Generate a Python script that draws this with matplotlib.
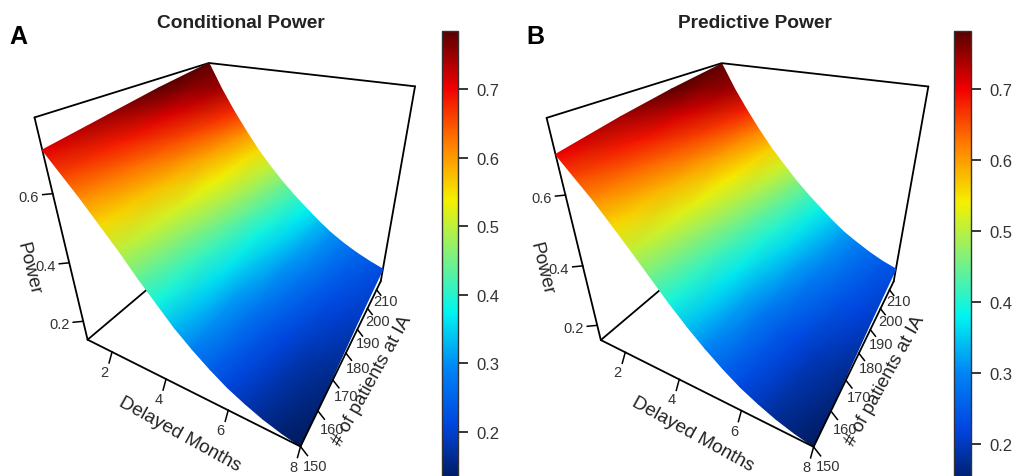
import numpy as np
import matplotlib
matplotlib.use("Agg")
import matplotlib.pyplot as plt
from matplotlib.colors import LinearSegmentedColormap, Normalize
from matplotlib.cm import ScalarMappable

plt.rcParams['font.family'] = ['Liberation Sans', 'DejaVu Sans']

months = [1, 1.5, 2, 2.5, 3, 3.5, 4, 4.5, 5, 5.5, 6, 6.5, 7, 7.5, 8]
patients = [150, 170, 190, 215]

cond_power = [
    [.71, .66, .61, .555, .50, .44, .385, .33, .285, .245, .21, .183, .16, .143, .13],
    [.735, .675, .62, .56, .505, .45, .40, .347, .30, .26, .225, .198, .175, .158, .145],
    [.76, .69, .63, .57, .51, .46, .41, .362, .32, .282, .25, .22, .195, .178, .165],
    [.785, .705, .635, .572, .513, .462, .415, .373, .335, .298, .265, .238, .215, .196, .18],
]
pred_power = [
    [.70, .655, .61, .558, .505, .45, .395, .345, .30, .26, .225, .198, .175, .158, .145],
    [.73, .675, .625, .57, .515, .46, .41, .36, .315, .275, .24, .213, .19, .174, .16],
    [.755, .69, .635, .578, .52, .47, .42, .376, .335, .298, .265, .238, .215, .196, .18],
    [.78, .705, .64, .58, .525, .477, .43, .388, .35, .313, .28, .254, .23, .21, .195],
]
# the colours read a bit higher than the heights towards the back of the box
colour_shift = [0.0, 0.012, 0.025, 0.04]

month_ticks = [2, 4, 6, 8]
patient_ticks = [150, 160, 170, 180, 190, 200, 210]
power_ticks = [0.2, 0.4, 0.6]
bar_ticks = [0.2, 0.3, 0.4, 0.5, 0.6, 0.7]

jet2 = LinearSegmentedColormap.from_list(
    'jet2', ['#001A5C', '#0045E0', '#0085F5', '#00F5F0', '#7FF07F',
             '#F5F000', '#FF7F00', '#F00000', '#5A0000'], N=256)

# colour limits per panel
lim_a = (0.128, 0.785)
lim_b = (0.14, 0.782)


def fit_camera(world, pixels):
    # 3x4 projection from a few known box points (pixel positions in the figure)
    rows = []
    for (x, y, z), (u, v) in zip(world, pixels):
        rows.append([x, y, z, 1, 0, 0, 0, 0, -u*x, -u*y, -u*z, -u])
        rows.append([0, 0, 0, 0, x, y, z, 1, -v*x, -v*y, -v*z, -v])
    return np.linalg.svd(np.array(rows, float))[2][-1].reshape(3, 4)


def project(cam, m, n, z):
    m = (np.asarray(m, float) - 1) / 7
    n = (np.asarray(n, float) - 150) / 65
    z = np.asarray(z, float)
    w = cam[2, 0]*m + cam[2, 1]*n + cam[2, 2]*z + cam[2, 3]
    u = (cam[0, 0]*m + cam[0, 1]*n + cam[0, 2]*z + cam[0, 3]) / w
    v = (cam[1, 0]*m + cam[1, 1]*n + cam[1, 2]*z + cam[1, 3]) / w
    return u, v


def draw_panel(ax, power, zlim, clim, box_px, tick_px, dx):
    z0, z1 = zlim
    world = [(0, 0, z1), (0, 1, z1), (1, 1, z1), (0, 0, z0), (1, 0, z0), (1, 1, z0)]
    pix = list(box_px)
    for t, p in zip(power_ticks, tick_px['z']):
        world.append((0, 0, t))
        pix.append(p)
    for t, p in zip(month_ticks[:3], tick_px['m']):
        world.append(((t-1)/7, 0, z0))
        pix.append(p)
    for t, p in zip(patient_ticks[1:], tick_px['n']):
        world.append((1, (t-150)/65, z0))
        pix.append(p)
    cam = fit_camera(world, pix)

    def edge(ms, ns, zs, zo=1):
        u, v = project(cam, ms, ns, zs)
        ax.plot(u, v, color='k', lw=1.3, zorder=zo, solid_capstyle='round')

    edge([1, 1, 8], [150, 215, 215], [z1, z1, z1])
    edge([1, 1], [150, 150], [z1, z0])
    edge([8, 8], [215, 215], [z1, z0])
    edge([1, 8], [150, 150], [z0, z0], zo=3)
    edge([1, 1], [150, 215], [z0, z0])
    edge([8, 8], [150, 215], [z0, z0], zo=3)

    M, N = np.meshgrid(months, patients)
    U, V = project(cam, M, N, power)
    colours = np.array(power) + np.array(colour_shift)[:, None]
    ax.pcolormesh(U, V, colours, cmap=jet2, norm=Normalize(*clim),
                  shading='gouraud', zorder=2)

    for t in month_ticks:
        u, v = project(cam, t, 150, z0)
        ax.plot([u, u-3], [v, v+11], color='k', lw=1.1, zorder=3)
        ax.text(u-7.5, v+20, str(t), ha='center', va='center', fontsize=10.5, color='#333333')
    for t in patient_ticks:
        u, v = project(cam, 8, t, z0)
        s = 1 - 0.4*(t-150)/60  # ticks get shorter towards the back
        ax.plot([u, u+7*s], [v, v+9*s], color='k', lw=1.1, zorder=3)
        ax.text(u+15*s, v+19*s, str(t), ha='center', va='center', fontsize=10.5, color='#333333')
    for t in power_ticks:
        u, v = project(cam, 1, 150, t)
        ax.plot([u, u-10], [v, v+1], color='k', lw=1.1, zorder=3)
        ax.text(u-24, v+3, str(t), ha='center', va='center', fontsize=10.5, color='#333333')

    ax.text(180+dx, 435, 'Delayed Months', rotation=-29, rotation_mode='anchor',
            ha='center', va='center', fontsize=13.7, color='#222222')
    ax.text(372+dx, 381, '# of patients at IA', rotation=61, rotation_mode='anchor',
            ha='center', va='center', fontsize=13.6, color='#222222')
    ax.text(28+dx, 269, 'Power', rotation=-76, rotation_mode='anchor',
            ha='center', va='center', fontsize=13.7, color='#222222')


def draw_bar(fig, x0, x1, top, bottom, lim):
    W, H = 1013.0, 477.0
    cax = fig.add_axes([x0/W, 1-bottom/H, (x1-x0)/W, (bottom-top)/H])
    sm = ScalarMappable(norm=Normalize(*lim), cmap=jet2)
    cb = fig.colorbar(sm, cax=cax)
    cb.set_ticks(bar_ticks)
    cb.set_ticklabels([str(t) for t in bar_ticks])
    cb.ax.tick_params(length=7, width=1.1, labelsize=12, pad=6, labelcolor='#333333')
    cb.outline.set_linewidth(1.0)
    cb.outline.set_edgecolor('#333333')


fig = plt.figure(figsize=(10.13, 4.77), dpi=100)
ax = fig.add_axes([0, 0, 1, 1])
ax.set_xlim(0, 1013)
ax.set_ylim(477, 0)
ax.axis('off')

draw_panel(ax, cond_power, (0.13, 0.785), lim_a,
           [(35, 116), (207, 64), (416, 89), (88, 340), (298, 447), (379, 282)],
           {'z': [(84, 323), (70, 264), (53.7, 195)],
            'm': [(111.7, 353), (165.7, 381.7), (226.7, 413)],
            'n': [(316.7, 411.7), (333, 380), (347, 353), (358, 330), (370, 310), (377, 290)]},
           0)
draw_panel(ax, pred_power, (0.145, 0.782), lim_b,
           [(548, 116), (720, 64), (929, 89), (602, 340), (811, 448), (892, 283)],
           {'z': [(597, 327), (583, 268), (566, 197)],
            'm': [(625, 353), (679, 382), (740, 413)],
            'n': [(830, 412), (846, 380), (860, 353), (871, 330), (883, 310), (890, 290)]},
           513)

draw_bar(fig, 442, 458, 32, 482, lim_a)
draw_bar(fig, 954, 971, 32, 488, lim_b)

ax.text(241, 23, 'Conditional Power', ha='center', va='center', fontsize=13.8,
        fontweight='bold', color='#222222')
ax.text(755, 23, 'Predictive Power', ha='center', va='center', fontsize=13.8,
        fontweight='bold', color='#222222')
ax.text(9, 37, 'A', ha='left', va='center', fontsize=18, fontweight='bold', color='k')
ax.text(526, 37, 'B', ha='left', va='center', fontsize=18, fontweight='bold', color='k')

fig.savefig('out.png', dpi=100)
